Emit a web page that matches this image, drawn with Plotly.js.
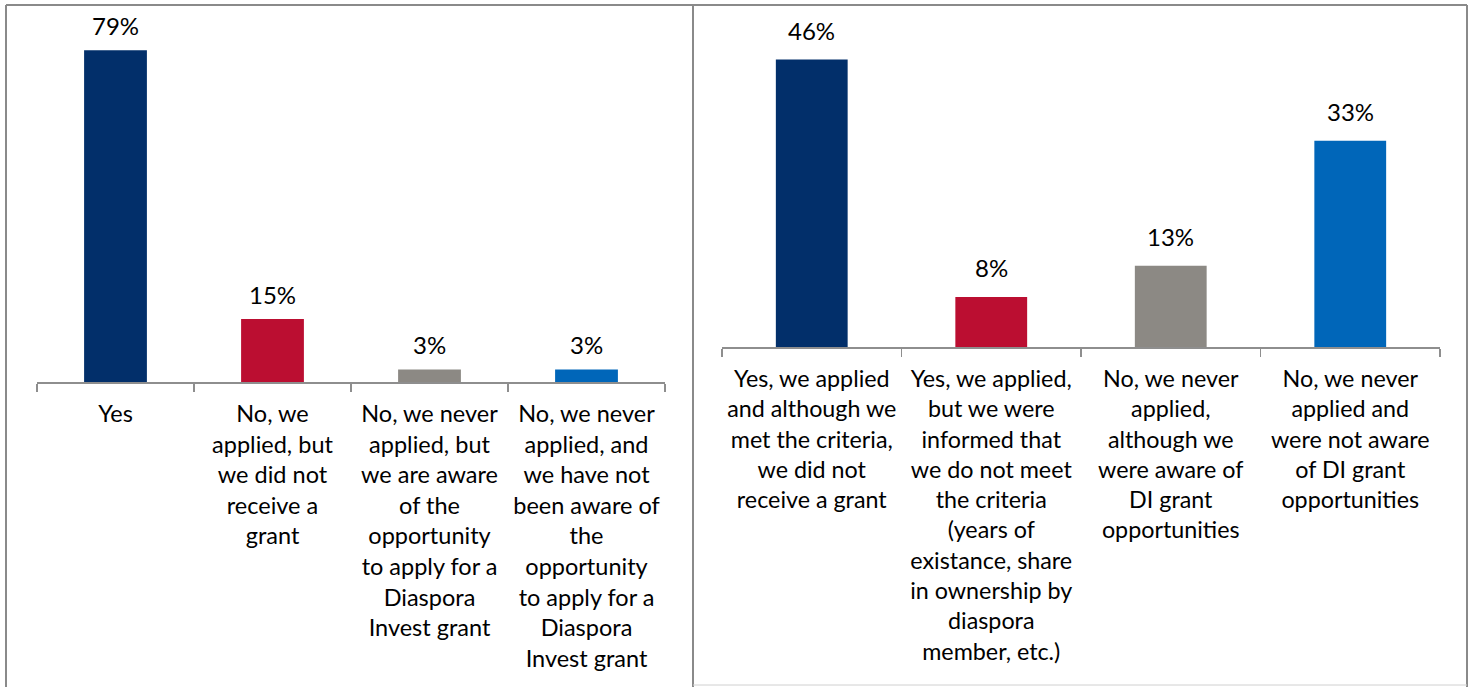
<!DOCTYPE html>
<html>
<head>
<meta charset="utf-8">
<script src="https://cdn.plot.ly/plotly-3.0.1.min.js"></script>
<style>html,body{margin:0;padding:0;background:#fff;}#chart{width:1471px;height:687px;}</style>
</head>
<body>
<div id="chart"></div>
<script>
// Left panel: did the company receive a grant
const leftCategories = [
  "Yes",
  "No, we<br>applied, but<br>we did not<br>receive a<br>grant",
  "No, we never<br>applied, but<br>we are aware<br>of the<br>opportunity<br>to apply for a<br>Diaspora<br>Invest grant",
  "No, we never<br>applied, and<br>we have not<br>been aware of<br>the<br>opportunity<br>to apply for a<br>Diaspora<br>Invest grant"
];
const leftValues = [79, 15, 3, 3];

// Right panel
const rightCategories = [
  "Yes, we applied<br>and although we<br>met the criteria,<br>we did not<br>receive a grant",
  "Yes, we applied,<br>but we were<br>informed that<br>we do not meet<br>the criteria<br>(years of<br>existance, share<br>in ownership by<br>diaspora<br>member, etc.)",
  "No, we never<br>applied,<br>although we<br>were aware of<br>DI grant<br>opportunities",
  "No, we never<br>applied and<br>were not aware<br>of DI grant<br>opportunities"
];
const rightValues = [46, 8, 13, 33];

const barColors = ["#022F6A", "#BB0E31", "#8C8984", "#0066B9"];

const W = 1471, H = 687;
const FONT = "Lato, 'Open Sans', sans-serif";
const px = v => v / W;
const py = v => 1 - v / H;

const traces = [
  {type: "bar", x: leftCategories, y: leftValues, xaxis: "x", yaxis: "y",
   marker: {color: barColors}, width: 0.4, hoverinfo: "skip"},
  {type: "bar", x: rightCategories, y: rightValues, xaxis: "x2", yaxis: "y2",
   marker: {color: barColors}, width: 0.4, hoverinfo: "skip"}
];

const axisStyle = {
  type: "category", showline: true, linecolor: "#8E8E8E", linewidth: 2,
  ticks: "outside", tickson: "boundaries", ticklen: 8, tickcolor: "#8E8E8E", tickwidth: 1.5,
  showgrid: false, zeroline: false, fixedrange: true, range: [-0.5, 3.5],
  tickangle: 0, automargin: false
};

const annotations = [];
leftCategories.forEach((c, i) => annotations.push({
  x: c, y: leftValues[i], xref: "x", yref: "y", text: leftValues[i] + "%",
  showarrow: false, yanchor: "bottom", yshift: 8,
  font: {family: FONT, size: 24, color: "#000"}
}));
rightCategories.forEach((c, i) => annotations.push({
  x: c, y: rightValues[i], xref: "x2", yref: "y2", text: rightValues[i] + "%",
  showarrow: false, yanchor: "bottom", yshift: 13,
  font: {family: FONT, size: 24, color: "#000"}
}));

const lineStyle = {color: "#8A8A8A", width: 2};
const shapes = [
  {type: "line", xref: "paper", yref: "paper", x0: px(6), x1: px(1467), y0: py(5), y1: py(5), line: lineStyle},
  {type: "line", xref: "paper", yref: "paper", x0: px(6), x1: px(6), y0: py(5), y1: py(687), line: lineStyle},
  {type: "line", xref: "paper", yref: "paper", x0: px(693), x1: px(693), y0: py(5), y1: py(687), line: lineStyle},
  {type: "line", xref: "paper", yref: "paper", x0: px(1467), x1: px(1467), y0: py(5), y1: py(687), line: lineStyle},
  {type: "line", xref: "paper", yref: "paper", x0: px(693), x1: px(1467), y0: py(685), y1: py(685), line: {color: "#D0D0D0", width: 1}}
];

const layout = {
  width: W, height: H,
  margin: {l: 0, r: 0, t: 0, b: 0},
  paper_bgcolor: "#fff", plot_bgcolor: "rgba(0,0,0,0)",
  showlegend: false,
  font: {family: FONT, size: 24, color: "#000"},
  xaxis: Object.assign({}, axisStyle, {domain: [px(37), px(665)], anchor: "y",
    ticklabelstandoff: 10,
    tickfont: {family: FONT, size: 23.5, color: "#000"}}),
  yaxis: {domain: [py(382), py(20)], range: [0, 362 / 4.2], visible: false, fixedrange: true, anchor: "x"},
  xaxis2: Object.assign({}, axisStyle, {domain: [px(722), px(1440)], anchor: "y2",
    ticklabelstandoff: 10,
    tickfont: {family: FONT, size: 23.3, color: "#000"}}),
  yaxis2: {domain: [py(347), py(20)], range: [0, 327 / 6.25], visible: false, fixedrange: true, anchor: "x2"},
  annotations: annotations,
  shapes: shapes
};

Plotly.newPlot("chart", traces, layout, {displayModeBar: false, staticPlot: true});
</script>
</body>
</html>
